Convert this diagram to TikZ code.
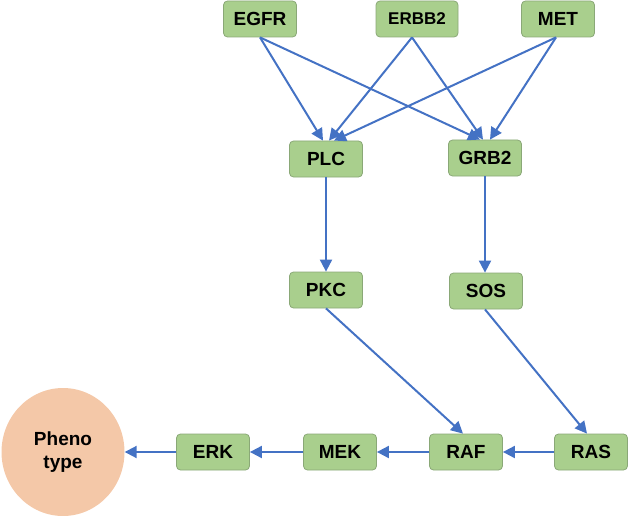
\documentclass[tikz,border=0pt]{standalone}
\usepackage{fontspec}
\setmainfont{Liberation Sans}
\usetikzlibrary{arrows.meta,shapes.geometric}
\definecolor{boxfill}{HTML}{A9CF8D}
\definecolor{boxdraw}{HTML}{8AA877}
\definecolor{arrowblue}{HTML}{4472C4}
\definecolor{phenofill}{HTML}{F4C8A8}
\tikzset{
  gene/.style={draw=boxdraw, fill=boxfill, line width=0.8pt, rounded corners=4pt,
    minimum width=73pt, minimum height=36pt, inner sep=0pt,
    font=\fontsize{19}{21}\selectfont\bfseries},
  pheno/.style={ellipse, draw=none, fill=phenofill, minimum width=123pt, minimum height=128pt,
    inner sep=0pt, align=center, font=\fontsize{19}{23}\selectfont\bfseries},
  link/.style={draw=arrowblue, line width=2pt, -{Triangle[length=12pt,width=12pt]}}
}
\begin{document}
\begin{tikzpicture}[x=1pt,y=1pt]
\useasboundingbox (0,0) rectangle (629,-516);
\node[gene] (egfr) at (260,-19) {EGFR};
\node[gene, minimum width=82pt, font=\fontsize{17}{19}\selectfont\bfseries] (erbb2) at (417,-19) {ERBB2};
\node[gene] (met) at (558,-19) {MET};
\node[gene] (plc) at (326,-159) {PLC};
\node[gene] (grb2) at (485,-158) {GRB2};
\node[gene] (pkc) at (326,-290) {PKC};
\node[gene] (sos) at (486,-291) {SOS};
\node[gene] (ras) at (591,-452) {RAS};
\node[gene] (raf) at (466,-452) {RAF};
\node[gene] (mek) at (340,-452) {MEK};
\node[gene] (erk) at (213,-452) {ERK};
\node[pheno] (pheno) at (63,-452) {Pheno\\type};
\draw[link] (egfr.south) -- ([xshift=-3pt]plc.north);
\draw[link] (egfr.south) -- ([xshift=-5pt]grb2.north);
\draw[link] ([xshift=-5pt]erbb2.south) -- ([xshift=3pt]plc.north);
\draw[link] ([xshift=-5pt]erbb2.south) -- ([xshift=-2pt]grb2.north);
\draw[link] ([xshift=-2pt]met.south) -- ([xshift=8pt]plc.north);
\draw[link] ([xshift=-2pt]met.south) -- ([xshift=5pt]grb2.north);
\draw[link] (plc.south) -- (pkc.north);
\draw[link] (grb2.south) -- ([xshift=-1pt]sos.north);
\draw[link] (pkc.south) -- ([xshift=-3pt]raf.north);
\draw[link] ([xshift=-1pt]sos.south) -- ([xshift=-4pt]ras.north);
\draw[link] (ras.west) -- (raf.east);
\draw[link] (raf.west) -- (mek.east);
\draw[link] (mek.west) -- (erk.east);
\draw[link] (erk.west) -- (pheno.east);
\end{tikzpicture}
\end{document}
